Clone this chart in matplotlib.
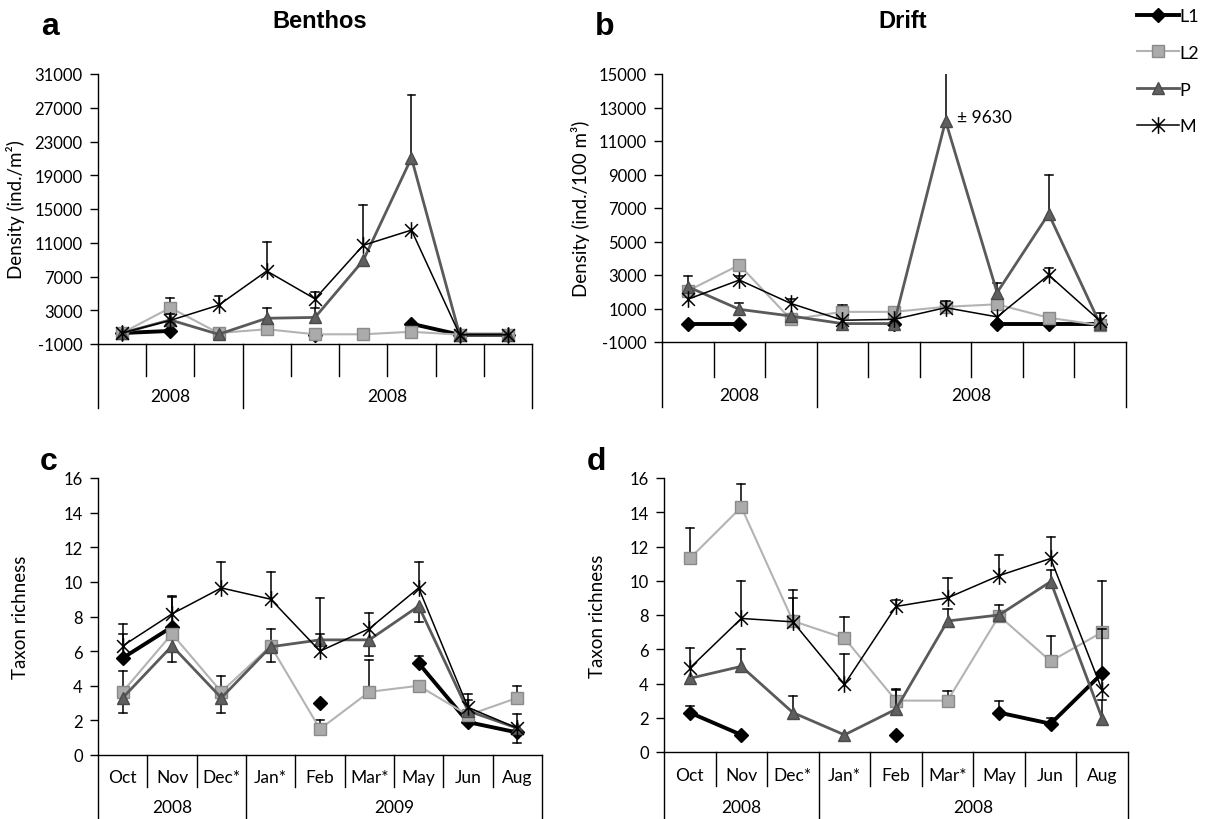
import matplotlib.pyplot as plt
from matplotlib.path import Path
from matplotlib.lines import Line2D
import numpy as np

nan = np.nan
months = ['Oct', 'Nov', 'Dec*', 'Jan*', 'Feb', 'Mar*', 'May', 'Jun', 'Aug']
series = ['L1', 'L2', 'P', 'M']

# a - benthos density (ind./m2)
a_L1 = [300, 550, nan, nan, 100, nan, 1400, 100, 100]
a_L2 = [300, 3300, 300, 750, 150, 150, 450, 100, 100]
a_P = [300, 1850, 150, 2050, 2150, 8900, 21050, 100, 100]
a_M = [300, 1800, 3600, 7650, 4350, 10700, 12500, 100, 100]
# error values: positive = upper bar, negative = lower bar
a_L2_err = [0, 1150, 0, 0, 0, 0, 0, 0, 0]
a_P_err = [0, 0, 0, 1200, 1100, 0, 7450, 0, 0]
a_M_err = [0, 800, 1100, 3400, 800, 4800, 0, 0, 0]

# b - drift density (ind./100 m3)
b_L1 = [50, 50, nan, nan, 50, nan, 50, 50, 50]
b_L2 = [2050, 3600, 350, 800, 800, 1100, 1250, 450, 0]
b_P = [2300, 950, 550, 100, 100, 12200, 1950, 6650, 50]
b_M = [1550, 2700, 1300, 300, 350, 1050, 500, 3000, 250]
b_L2_err = [0, 300, 0, 400, 0, 0, 0, 0, 0]
b_P_err = [650, 350, 0, 0, 0, 9630, 600, 2350, 700]
b_M_err = [0, 250, 250, 0, 0, 400, 0, 400, 0]

# c - benthos taxon richness
c_L1 = [5.6, 7.4, nan, nan, 3.0, nan, 5.3, 1.9, 1.3]
c_L2 = [3.65, 7.0, 3.65, 6.3, 1.5, 3.65, 4.0, 2.3, 3.3]
c_P = [3.3, 6.3, 3.3, 6.25, 6.65, 6.65, 8.6, 2.55, 1.55]
c_M = [6.3, 8.15, 9.65, 9.0, 6.0, 7.3, 9.65, 2.75, 1.55]
c_L1_err = [1.4, 1.7, 0, 0, 0, 0, 0.4, 0, -0.6]
c_L2_err = [1.2, 0, 0.9, 0.95, 0.5, 1.85, 0, 0, 0.7]
c_P_err = [-0.9, -0.95, -0.9, -0.9, 2.4, -0.95, -0.9, 0.6, 0]
c_M_err = [1.25, 1.05, 1.5, 1.55, 1.0, 0.9, 1.5, 0.8, 0.8]

# d - drift taxon richness
d_L1 = [2.3, 1.0, nan, nan, 1.0, nan, 2.3, 1.65, 4.6]
d_L2 = [11.3, 14.3, 7.65, 6.65, 3.0, 3.0, 7.95, 5.3, 7.0]
d_P = [4.3, 5.0, 2.3, 1.0, 2.5, 7.65, 8.0, 9.95, 1.95]
d_M = [4.9, 7.8, 7.6, 3.95, 8.5, 9.0, 10.3, 11.3, 3.6]
d_L1_err = [0.4, 0, 0, 0, 0, 0, 0.7, 0.35, 0]
d_L2_err = [1.8, 1.35, 1.8, 1.25, 0.7, 0.55, 0, 1.5, 3.0]
d_P_err = [0, 1.0, 0.95, 0, 1.1, 0.7, 0.6, 0.65, 1.1]
d_M_err = [1.2, 2.2, 1.4, 1.8, 0.4, 1.15, 1.2, 1.25, 3.6]

plt.rcParams['font.family'] = ['Lato', 'DejaVu Sans']
plt.rcParams['axes.unicode_minus'] = False

# Excel-like star marker: an X plus a vertical bar
star = Path([(-1, -1), (1, 1), (-1, 1), (1, -1), (0, -1.3), (0, 1.3)],
            [Path.MOVETO, Path.LINETO, Path.MOVETO, Path.LINETO, Path.MOVETO, Path.LINETO])

styles = {
    'L1': dict(color='black', lw=2.8, marker='D', ms=7.5, mfc='black', mec='black'),
    'L2': dict(color='#b3b3b3', lw=1.5, marker='s', ms=8, mfc='#ababab', mec='#8a8a8a', mew=1),
    'P': dict(color='#5a5a5a', lw=2.0, marker='^', ms=8.5, mfc='#5f5f5f', mec='#4a4a4a', mew=1),
    'M': dict(color='black', lw=1.1, marker=star, ms=12, mfc='none', mec='black', mew=1.1),
}

fig = plt.figure(figsize=(12.13, 8.2), dpi=100)
W, H = 1213.0, 820.0


def px_axes(left, top, right, bottom):
    return fig.add_axes([left/W, 1 - bottom/H, (right-left)/W, (bottom-top)/H])


def draw_panel(ax, data, errs, ylim, yticks, ylabel, labx, row1, row2, show_months, years):
    x = np.arange(len(months))
    for k, name in enumerate(series):
        y = np.array(data[k], dtype=float)
        e = errs[k]
        if e is not None:
            e = np.array(e, dtype=float)
            for i in range(len(x)):
                if e[i] == 0 or np.isnan(y[i]):
                    continue
                y2 = y[i] + e[i]
                ax.plot([x[i], x[i]], [y[i], y2], color='black', lw=1.1, zorder=2 + k)
                ax.plot([x[i]-0.08, x[i]+0.08], [y2, y2], color='black', lw=1.1, zorder=2 + k)
        ax.plot(x, y, zorder=3 + k, label=name, **styles[name])
    ax.set_xlim(-0.5, 8.5)
    ax.set_ylim(*ylim)
    ax.set_yticks(yticks)
    ax.set_xticks([])
    for s in ['top', 'right']:
        ax.spines[s].set_visible(False)
    ax.spines['left'].set_linewidth(1)
    ax.spines['bottom'].set_linewidth(1)
    ax.tick_params(axis='y', direction='out', length=6, width=1, labelsize=12, pad=5)
    ax.set_ylabel(ylabel, fontsize=13.5)
    ax.yaxis.set_label_coords(labx, 0.5)

    # two-level category axis drawn under the plot
    trans = ax.get_xaxis_transform()
    for b in np.arange(-0.5, 9.0, 1.0):
        depth = row2 if b in (-0.5, 2.5, 8.5) else row1
        ax.plot([b, b], [0, -depth], transform=trans, clip_on=False, color='black', lw=1)
    if show_months:
        for i, m in enumerate(months):
            ax.text(i, -row1*0.68, m, transform=trans, ha='center', va='center', fontsize=12.5)
    ax.text(1, -row2*0.82, years[0], transform=trans, ha='center', va='center', fontsize=12.5)
    ax.text(5.5, -row2*0.82, years[1], transform=trans, ha='center', va='center', fontsize=12.5)


ax_a = px_axes(98, 75, 532, 345)
draw_panel(ax_a, [a_L1, a_L2, a_P, a_M], [None, a_L2_err, a_P_err, a_M_err],
           (-1000, 31000), np.arange(-1000, 31001, 4000), 'Density (ind./m²)',
           -0.168, 32/270, 64/270, False, ['2008', '2008'])

ax_b = px_axes(662, 75, 1126, 343)
draw_panel(ax_b, [b_L1, b_L2, b_P, b_M], [None, b_L2_err, b_P_err, b_M_err],
           (-1000, 15000), np.arange(-1000, 15001, 2000), 'Density (ind./100 m³)',
           -0.155, 35/268, 65/268, False, ['2008', '2008'])
ax_b.text(5.23, 12430, '± 9630', ha='left', va='center', fontsize=12.5)

ax_c = px_axes(98, 479, 542, 756)
draw_panel(ax_c, [c_L1, c_L2, c_P, c_M], [c_L1_err, c_L2_err, c_P_err, c_M_err],
           (0, 16), np.arange(0, 17, 2), 'Taxon richness',
           -0.155, 32/277, 64/277, True, ['2008', '2009'])

ax_d = px_axes(664, 479, 1128, 753)
draw_panel(ax_d, [d_L1, d_L2, d_P, d_M], [d_L1_err, d_L2_err, d_P_err, d_M_err],
           (0, 16), np.arange(0, 17, 2), 'Taxon richness',
           -0.125, 34/274, 67/274, True, ['2008', '2008'])

# panel letters and titles
bold = dict(family=['Liberation Sans', 'DejaVu Sans'], fontweight='bold')
fig.text(41/W, 1 - 27/H, 'a', fontsize=23, va='center', ha='left', **bold)
fig.text(595/W, 1 - 27/H, 'b', fontsize=23, va='center', ha='left', **bold)
fig.text(40/W, 1 - 462/H, 'c', fontsize=23, va='center', ha='left', **bold)
fig.text(587/W, 1 - 462/H, 'd', fontsize=23, va='center', ha='left', **bold)
fig.text(320/W, 1 - 22/H, 'Benthos', fontsize=17, va='center', ha='center', **bold)
fig.text(903/W, 1 - 22/H, 'Drift', fontsize=17, va='center', ha='center', **bold)

handles = [Line2D([], [], **styles[s]) for s in series]
fig.legend(handles, series, loc='upper left', bbox_to_anchor=(1137/W, 1 - 9/H),
           frameon=False, fontsize=13, handlelength=2.3, handletextpad=0.05,
           labelspacing=1.15, borderpad=0, borderaxespad=0)

fig.savefig('out.png', dpi=100)
